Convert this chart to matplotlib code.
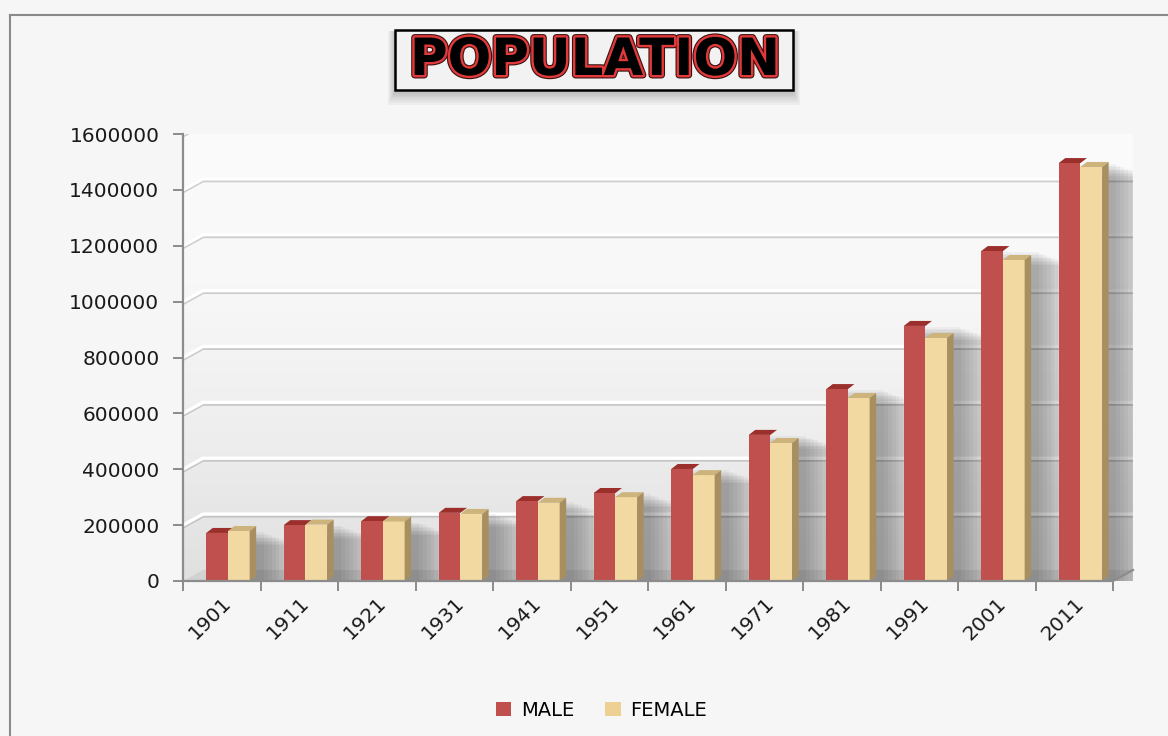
import matplotlib.pyplot as plt
import matplotlib.patheffects as pe
from matplotlib.patches import Polygon, Rectangle, Patch
from matplotlib.lines import Line2D
from matplotlib.colors import LinearSegmentedColormap
import numpy as np

years = ['1901', '1911', '1921', '1931', '1941', '1951',
         '1961', '1971', '1981', '1991', '2001', '2011']
male = [172000, 200000, 214000, 244000, 286000, 315000,
        401000, 523000, 687000, 913000, 1181000, 1496000]
female = [179000, 202000, 213000, 240000, 280000, 300000,
          379000, 494000, 655000, 870000, 1149000, 1482000]
yticks = [0, 200000, 400000, 600000, 800000, 1000000, 1200000, 1400000, 1600000]

male_c, male_top = '#C0504D', '#9A2F2C'
fem_c, fem_top, fem_side = '#F2D9A2', '#CDB37C', '#A88F60'

plt.rcParams['hatch.color'] = '#DDBF80'
plt.rcParams['hatch.linewidth'] = 0.5

fig = plt.figure(figsize=(11.68, 7.36), dpi=100)
fig.patch.set_facecolor('#f6f6f6')

# outer chart frame (left + top edges visible)
fig.add_artist(Line2D([10 / 1168, 10 / 1168], [0, 1 - 15 / 736], color='#8a8a8a', lw=1.5))
fig.add_artist(Line2D([10 / 1168, 1], [1 - 15 / 736, 1 - 15 / 736], color='#8a8a8a', lw=1.5))

ax = fig.add_axes([183 / 1168, 1 - 581 / 736, 950 / 1168, 447 / 736])
ax.set_facecolor('none')

px_x = 77.5                  # pixels per category
px_y = 447 / 1600000         # pixels per value unit
xmax = -0.5 + 950 / px_x
ax.set_xlim(-0.5, xmax)
ax.set_ylim(0, 1600000)

# background gradient of the plot area
grad = np.linspace(0, 1, 256).reshape(-1, 1)
cmap = LinearSegmentedColormap.from_list('bg', ['#e0e0e0', '#eeeeee', '#f8f8f8', '#fbfbfb'])
ax.imshow(grad, cmap=cmap, aspect='auto', origin='lower',
          extent=(-0.5, xmax, 0, 1600000), zorder=0)

# 3d depth offsets
bdx, bdy = 20 / px_x, 11 / px_y      # back wall
dx, dy = 6.5 / px_x, 5 / px_y        # bar depth

# floor
ax.add_patch(Polygon([(-0.5, 0), (len(years) - 0.5, 0),
                      (len(years) - 0.5 + bdx, bdy), (-0.5 + bdx, bdy)],
                     closed=True, fc='#d2d2d2', ec='none', zorder=1))

# gridlines on back wall
for v in yticks[1:]:
    ax.plot([-0.5, -0.5 + bdx, xmax], [v, v + bdy, v + bdy], color='white', lw=2.4,
            zorder=2, solid_capstyle='butt',
            path_effects=[pe.SimpleLineShadow(offset=(0, -1.3), shadow_color='#9a9a9a', alpha=0.45),
                          pe.Normal()])

x = np.arange(len(years))
w = 0.28
xm = x - 0.2
xf = x + 0.08

# soft shadows behind bars
for i in range(len(years)):
    h = max(male[i], female[i])
    for k in range(1, 11):
        ax.add_patch(Rectangle((xm[i] + 0.05, 0), 2 * w + dx + k * 0.05, h - k * 5000,
                               fc='black', alpha=0.035, ec='none', zorder=2.5))

# bars
ax.bar(xm, male, width=w, align='edge', color=male_c, zorder=4)
ax.bar(xf, female, width=w, align='edge', color=fem_c, hatch='----', edgecolor='none', zorder=4)

for i in range(len(years)):
    hm, hf = male[i], female[i]
    ax.add_patch(Polygon([(xm[i], hm), (xm[i] + w, hm), (xm[i] + w + dx, hm + dy), (xm[i] + dx, hm + dy)],
                         closed=True, fc=male_top, ec='none', zorder=3.5))
    ax.add_patch(Polygon([(xf[i], hf), (xf[i] + w, hf), (xf[i] + w + dx, hf + dy), (xf[i] + dx, hf + dy)],
                         closed=True, fc=fem_top, ec='none', zorder=4.5))
    ax.add_patch(Polygon([(xf[i] + w, 0), (xf[i] + w, hf), (xf[i] + w + dx, hf + dy), (xf[i] + w + dx, dy)],
                         closed=True, fc=fem_side, ec='none', zorder=4.5))

# front floor edge
ax.plot([-0.5, len(years) - 0.5, len(years) - 0.5 + bdx], [0, 0, bdy],
        color='#8c8c8c', lw=1.6, zorder=6, clip_on=False)

for s in ['top', 'right', 'bottom']:
    ax.spines[s].set_visible(False)
ax.spines['left'].set_color('#8c8c8c')
ax.spines['left'].set_linewidth(1.6)

ax.set_yticks(yticks)
ax.set_yticklabels([str(v) for v in yticks])
ax.tick_params(axis='y', length=7, width=1.4, color='#8c8c8c', labelsize=14.5, labelcolor='#1a1a1a', pad=10)

ax.set_xticks(x + 0.0)
ax.set_xticklabels(years, rotation=45, ha='right', va='top', rotation_mode='anchor')
ax.set_xticks(np.arange(-0.5, len(years)), minor=True)
ax.tick_params(axis='x', which='major', length=0, labelsize=14.5, labelcolor='#1a1a1a', pad=9)
ax.tick_params(axis='x', which='minor', length=7, width=1.4, color='#8c8c8c')

# title box
for k in range(1, 8):
    fig.add_artist(Rectangle(((395 - k) / 1168, 1 - (92 + k * 1.8) / 736), (398 + 2 * k) / 1168,
                             (60 + 2 * k) / 736, fc='black', alpha=0.03, ec='none'))
fig.add_artist(Rectangle((395 / 1168, 1 - 90 / 736), 398 / 1168, 60 / 736,
                         fc='#f2f2f2', ec='black', lw=1.8))
fig.text(595 / 1168, 1 - 61 / 736, 'POPULATION', ha='center', va='center',
         fontsize=37, fontweight='bold', color='black',
         path_effects=[pe.Stroke(linewidth=5, foreground='#3a1010'),
                       pe.Stroke(linewidth=3.4, foreground='#E23A3A'),
                       pe.Normal()])

fig.legend(handles=[Patch(fc=male_c), Patch(fc='#EDD092')], labels=['MALE', 'FEMALE'],
           loc='center', bbox_to_anchor=(0.515, 0.035), ncol=2, frameon=False,
           fontsize=14, handlelength=0.8, handleheight=0.8, handletextpad=0.5,
           columnspacing=1.6)

fig.savefig('out.png', dpi=100, facecolor=fig.get_facecolor())
